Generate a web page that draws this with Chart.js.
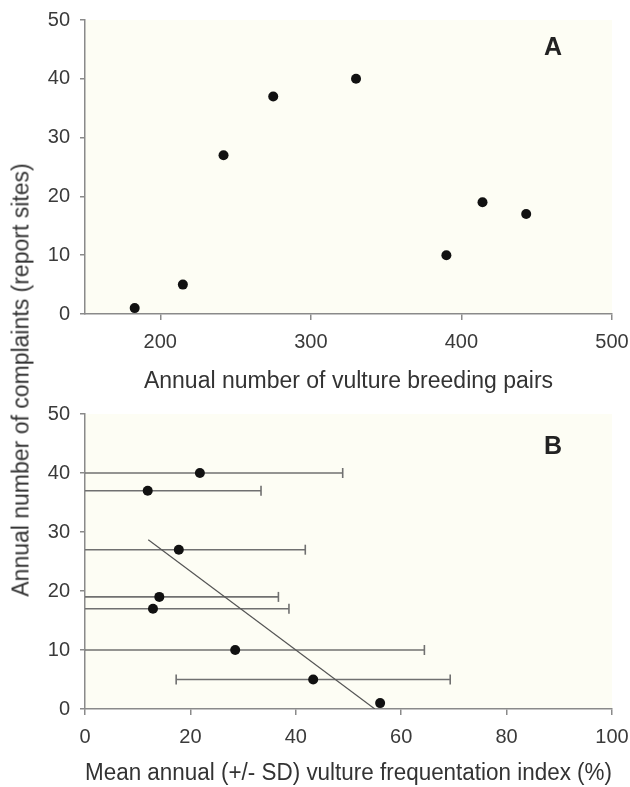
<!DOCTYPE html>
<html>
<head>
    <meta charset="UTF-8">
    <title>Vulture breeding pairs and complaints</title>
    <script src="https://cdn.jsdelivr.net/npm/chart.js"></script>
    <style>
       body {
           margin: 0;
           background: #fff;
       }
       .page {
           position: relative;
           width: 630px;
           height: 787px;
           font-family: "Liberation Sans", Arial, sans-serif;
       }
       .page canvas {
           position: absolute;
           left: 0;
       }
       #chartA { top: 0; }
       #chartB { top: 400px; }
       .ytitle {
           position: absolute;
           left: 21px;
           top: 380px;
           transform: translate(-50%, -50%) rotate(-90deg);
           white-space: nowrap;
           font-size: 23px;
           color: #333;
       }
   </style>
</head>
<body>
   <div class="page">
       <canvas id="chartA" width="630" height="400"></canvas>
       <canvas id="chartB" width="630" height="387"></canvas>
       <div class="ytitle">Annual number of complaints (report sites)</div>
   </div>

    <script>
    // panel A: complaints vs breeding pairs
    const breedingPairs = [183, 215, 242, 275, 330, 390, 414, 443];
    const complaintsA = [1, 5, 27, 37, 40, 10, 19, 17];

    // panel B: complaints vs frequentation index (mean +/- SD)
    const frequentation = [21.8, 11.9, 17.8, 14.1, 12.9, 28.5, 43.3, 56.0];
    const frequentationSD = [27.1, 21.5, 24.0, 22.6, 25.8, 35.9, 26.0, 0];
    const complaintsB = [40, 37, 27, 19, 17, 10, 5, 1];

    // fitted line end points, as drawn
    const trendX = [12.0, 55.0];
    const trendY = [28.7, 0];

    const ticksPairs = [200, 300, 400, 500];
    const ticksIndex = [0, 20, 40, 60, 80, 100];
    const ticksComplaints = [0, 10, 20, 30, 40, 50];

    Chart.defaults.font.family = '"Liberation Sans", Arial, sans-serif';
    Chart.defaults.color = '#3a3a3a';

    const axisGrey = '#8a8a8a';

    function plotBackground() {
        return {
            id: 'plotBackground',
            beforeDraw(chart) {
                const a = chart.chartArea;
                chart.ctx.save();
                chart.ctx.fillStyle = '#fdfdf4';
                chart.ctx.fillRect(a.left, a.top, a.right - a.left, a.bottom - a.top);
                chart.ctx.restore();
            }
        };
    }

    function panelLabel(text, dy) {
        return {
            id: 'panelLabel',
            afterDatasetsDraw(chart) {
                const ctx = chart.ctx;
                ctx.save();
                ctx.font = 'bold 25px "Liberation Sans", Arial, sans-serif';
                ctx.fillStyle = '#222';
                ctx.textAlign = 'center';
                ctx.textBaseline = 'middle';
                ctx.fillText(text, chart.chartArea.right - 59, chart.chartArea.top + dy);
                ctx.restore();
            }
        };
    }

    function xAxis(min, max, ticks, title, height, titlePad) {
        return {
            type: 'linear',
            min: min,
            max: max,
            afterBuildTicks: s => { s.ticks = ticks.map(v => ({ value: v })); },
            afterFit: s => {
                s.height = height;
                s.paddingLeft = 0;
                s.paddingRight = 0;
            },
            border: { color: axisGrey, width: 1.5 },
            grid: { drawOnChartArea: false, color: axisGrey, lineWidth: 1.5, tickLength: 6 },
            ticks: { font: { size: 20 }, padding: 10, maxRotation: 0 },
            title: { display: true, text: title, font: { size: 23 }, color: '#333', padding: { top: 0, bottom: titlePad } }
        };
    }

    function yAxis() {
        return {
            type: 'linear',
            min: 0,
            max: 50,
            afterBuildTicks: s => { s.ticks = ticksComplaints.map(v => ({ value: v })); },
            afterFit: s => {
                s.width = 85;
                s.paddingTop = 0;
                s.paddingBottom = 0;
            },
            border: { color: axisGrey, width: 1.5 },
            grid: { drawOnChartArea: false, color: axisGrey, lineWidth: 1.5, tickLength: 5 },
            ticks: { font: { size: 20 }, padding: 10 }
        };
    }

    const baseOptions = {
        responsive: false,
        animation: false,
        plugins: { legend: { display: false }, tooltip: { enabled: false } }
    };

    new Chart('chartA', {
        type: 'scatter',
        data: {
            datasets: [{
                data: breedingPairs.map((x, i) => ({ x: x, y: complaintsA[i] })),
                pointRadius: 5,
                pointBorderWidth: 0,
                backgroundColor: '#111'
            }]
        },
        options: {
            ...baseOptions,
            layout: { padding: { top: 20, right: 18, left: 0, bottom: 0 } },
            scales: {
                x: xAxis(150, 500, ticksPairs, 'Annual number of vulture breeding pairs', 86, 5),
                y: yAxis()
            }
        },
        plugins: [plotBackground(), panelLabel('A', 28)]
    });

    const errorBars = [];
    frequentation.forEach((m, i) => {
        if (!frequentationSD[i]) return;
        errorBars.push({
            type: 'scatter',
            showLine: true,
            data: [
                { x: m - frequentationSD[i], y: complaintsB[i] },
                { x: m + frequentationSD[i], y: complaintsB[i] }
            ],
            borderColor: '#707070',
            borderWidth: 1.6,
            pointStyle: 'line',
            rotation: 90,
            pointRadius: 5,
            pointBorderWidth: 1.6,
            pointBorderColor: '#707070'
        });
    });

    new Chart('chartB', {
        type: 'scatter',
        data: {
            datasets: [{
                data: frequentation.map((x, i) => ({ x: x, y: complaintsB[i] })),
                pointRadius: 5,
                pointBorderWidth: 0,
                backgroundColor: '#111'
            }, {
                showLine: true,
                data: trendX.map((x, i) => ({ x: x, y: trendY[i] })),
                borderColor: '#555',
                borderWidth: 1.2,
                pointRadius: 0
            }, ...errorBars]
        },
        options: {
            ...baseOptions,
            layout: { padding: { top: 14, right: 18, left: 0, bottom: 0 } },
            scales: {
                x: xAxis(0, 100, ticksIndex, 'Mean annual (+/- SD) vulture frequentation index (%)', 78, 0),
                y: yAxis()
            }
        },
        plugins: [plotBackground(), panelLabel('B', 33)]
    });
    </script>
</body>
</html>
